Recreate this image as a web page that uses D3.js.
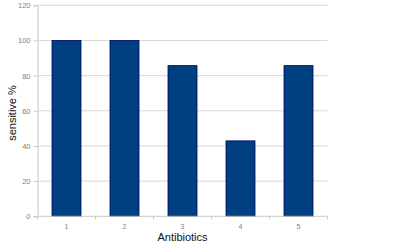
<!DOCTYPE html>
<html><head><meta charset="utf-8">
<script src="https://cdn.jsdelivr.net/npm/d3@7"></script>
<style>body{margin:0;background:#fff}svg{display:block}</style>
</head><body>
<svg id="c" width="400" height="251"></svg>
<script>
const categories = ["1","2","3","4","5"];
const sensitive = [100, 100, 85.7, 42.9, 85.7];
const yTicks = [0, 20, 40, 60, 80, 100, 120];

const svg = d3.select("#c");
const L = 37.5, R = 327.5, T = 5.3, B = 216.3;
const x = d3.scaleBand().domain(categories).range([L, R]).paddingInner(0.5).paddingOuter(0.25);
const y = d3.scaleLinear().domain([0, 120]).range([B, T]);
const font = "Liberation Sans, Arial, sans-serif";

// gridlines
svg.append("g").selectAll("line").data(yTicks.filter(d => d > 0)).join("line")
  .attr("x1", L).attr("x2", R).attr("y1", d => y(d)).attr("y2", d => y(d))
  .attr("stroke", "#d9d9d9").attr("stroke-width", 1);

// y axis
const yAxis = svg.append("g").attr("transform", `translate(${L},0)`)
  .call(d3.axisLeft(y).tickValues(yTicks).tickSize(4).tickPadding(3));
yAxis.select(".domain").attr("stroke", "#c8c8c8");
yAxis.selectAll(".tick line").attr("stroke", "#c8c8c8");
yAxis.selectAll("text").attr("fill", "#808080").style("font-family", font).style("font-size", "7.5px");

// bars
svg.append("g").selectAll("rect").data(sensitive).join("rect")
  .attr("x", (d, i) => x(categories[i]))
  .attr("width", x.bandwidth())
  .attr("y", d => y(d))
  .attr("height", d => B - y(d))
  .attr("fill", "#004080")
  .attr("stroke", "#000066").attr("stroke-width", 0.8);

// x axis
const xBound = d3.scaleLinear().domain([0, categories.length]).range([L, R]);
const xg = svg.append("g").attr("transform", `translate(0,${B})`);
xg.append("line").attr("x1", L).attr("x2", R).attr("stroke", "#c8c8c8");
xg.selectAll("line.tk").data(d3.range(categories.length + 1)).join("line").attr("class", "tk")
  .attr("x1", d => xBound(d)).attr("x2", d => xBound(d)).attr("y1", 0).attr("y2", 3)
  .attr("stroke", "#c8c8c8");
xg.selectAll("text").data(categories).join("text")
  .attr("x", d => x(d) + x.bandwidth() / 2).attr("y", 12.8)
  .attr("text-anchor", "middle").attr("fill", "#808080")
  .style("font-family", font).style("font-size", "7px")
  .text(d => d);

// axis titles
svg.append("text").attr("x", (L + R) / 2).attr("y", 240.8).attr("text-anchor", "middle")
  .style("font-family", font).style("font-size", "11px")
  .attr("fill", "#111").text("Antibiotics");
svg.append("text").attr("transform", `translate(15.5,113) rotate(-90)`).attr("text-anchor", "middle")
  .style("font-family", font).style("font-size", "11px")
  .attr("fill", "#111").text("sensitive %");
</script>
</body></html>
